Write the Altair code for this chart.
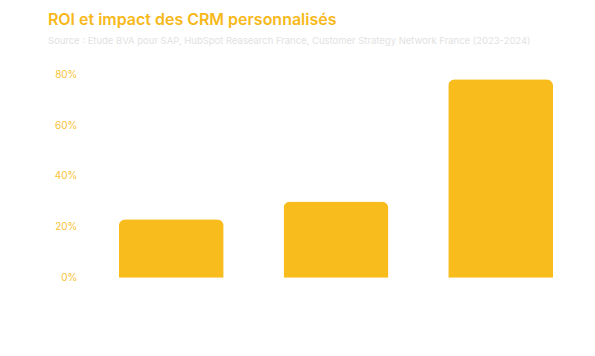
import altair as alt
import pandas as pd

categories = ["Augmentation du ROI", "Hausse des ventes", "Satisfaction client"]
values = [0.23, 0.30, 0.78]

df = pd.DataFrame({"categorie": categories, "valeur": values})

AMBER = "#F8BC1C"

chart = alt.Chart(df).mark_bar(
    color=AMBER, cornerRadiusTopLeft=7, cornerRadiusTopRight=7
).encode(
    x=alt.X("categorie:N", sort=categories, title=None,
            scale=alt.Scale(paddingInner=0.3636, paddingOuter=0.206),
            axis=alt.Axis(labelColor="white", ticks=False, domain=False, labelAngle=0)),
    y=alt.Y("valeur:Q", title=None,
            scale=alt.Scale(domain=[0, 0.8]),
            axis=alt.Axis(format=".0%", values=[0, 0.2, 0.4, 0.6, 0.8], grid=False,
                          domain=False, ticks=False, labelPadding=8,
                          labelColor="#F9C235", labelFont="Inter", labelFontSize=10)),
).properties(
    width=503, height=204,
    autosize=alt.AutoSizeParams(type="none"),
    padding={"left": 77, "top": 66, "right": 0, "bottom": 70},
    title=alt.TitleParams(
        "ROI et impact des CRM personnalisés",
        subtitle="Source : Etude BVA pour SAP, HubSpot Reasearch France, Customer Strategy Network France (2023-2024)",
        anchor="start", frame="group", dx=-37, offset=24,
        font="Inter", fontSize=16, fontWeight=600, color="#F7B81A",
        subtitleFont="Inter", subtitleFontSize=9.5, subtitleColor="#E2E2E2", subtitlePadding=8,
    ),
).configure_view(stroke=None)

chart.save("out.html", embed_options={"renderer": "svg", "actions": False})
